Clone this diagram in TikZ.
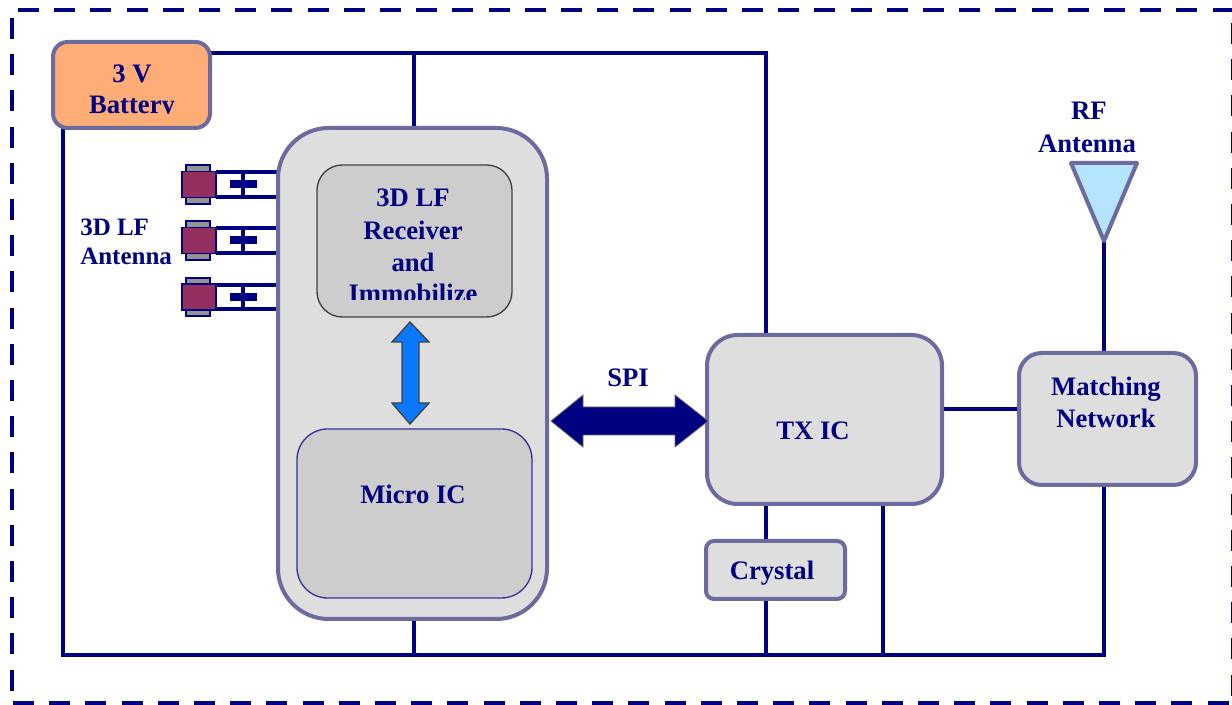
\documentclass[tikz,border=0pt]{standalone}
\usepackage{fontspec}
\setmainfont{Liberation Serif}
\usetikzlibrary{calc}
\definecolor{wire}{HTML}{000080}
\definecolor{edgeblue}{HTML}{6B6B9F}
\definecolor{boxgrey}{HTML}{DEDEDE}
\definecolor{innergrey}{HTML}{CDCDCD}
\definecolor{batt}{HTML}{FFAD76}
\definecolor{plum}{HTML}{93305F}
\definecolor{skyfill}{HTML}{B4E4FF}
\definecolor{arrowblue}{HTML}{0A78FF}
\pgfdeclarelayer{back}
\pgfsetlayers{back,main}
\tikzset{
  px/.style={x=0.75pt,y=-0.75pt},
  boxsize/.style 2 args={minimum width=#1*0.75pt,minimum height=#2*0.75pt,inner sep=0pt,outer sep=0pt},
  block/.style={rectangle,draw=edgeblue,fill=boxgrey,line width=3pt},
  wireline/.style={draw=wire,line width=3.3pt},
  thinwire/.style={draw=wire,line width=2.8pt},
  frameline/.style={draw=wire,line width=3.6pt,dash pattern=on 15.75pt off 11.4pt},
  label/.style={text=wire,font=\fontsize{20}{24}\selectfont\bfseries,inner sep=0pt,outer sep=0pt},
  smalllabel/.style={text=wire,font=\fontsize{18.75}{22}\selectfont\bfseries,inner sep=0pt,anchor=west},
  capcolor/.style={rectangle,draw=wire,fill=gray!85,line width=1.2pt},
  coil/.style={rectangle,draw=wire,fill=plum,line width=1.2pt},
  plate/.style={rectangle,fill=wire,inner sep=0pt,outer sep=0pt},
}
\begin{document}
\begin{tikzpicture}[px]
\useasboundingbox (0,0) rectangle (1232,705);
\begin{pgfonlayer}{back}
\fill[white] (0,0) rectangle (1232,705);
\end{pgfonlayer}
% outer dashed frame
\coordinate (fa) at (18,10);
\coordinate (fb) at (1240,10);
\coordinate (fc) at (12,18);
\coordinate (fd) at (12,692);
\coordinate (ff) at (13,703);
\coordinate (fe) at (1240,703);
\coordinate (fg) at (1233.5,23);
\coordinate (fh) at (1233.5,696);
\draw[frameline] (fa) -- (fb);
\draw[frameline] (fc) -- (fd);
\draw[frameline] (ff) -- (fe);
\draw[frameline] (fg) -- (fh);
% blocks
\node[block,boxsize={157}{86},rounded corners=11pt,fill=batt] (battery) at (131.5,85) {};
\node[block,boxsize={269}{491},rounded corners=38pt] (mainblk) at (412.5,373.5) {};
\node[rectangle,draw=black!75,fill=innergrey,line width=1pt,boxsize={195}{152},rounded corners=19pt] (lf) at (414.5,241) {};
\node[rectangle,draw=wire!80,fill=innergrey,line width=1pt,boxsize={235}{169},rounded corners=23pt] (micro) at (414.5,513.5) {};
\node[block,boxsize={235}{169},rounded corners=23pt] (tx) at (824.5,419.5) {};
\node[block,boxsize={139}{58},rounded corners=6pt] (crystal) at (775.5,570) {};
\node[block,boxsize={177}{132},rounded corners=17pt] (match) at (1107.5,419) {};
% antenna triangle
\coordinate (ra) at (1071,163);
\coordinate (rb) at (1137,163);
\coordinate (rc) at (1104,241);
\draw[edgeblue,fill=skyfill,line width=3pt,line join=round] (ra) -- (rb) -- (rc) -- cycle;
% connectors
\coordinate (tr) at (766,53);
\coordinate (tm) at (414,53);
\coordinate (bl) at (63,655);
\coordinate (br) at (1104,655);
\coordinate (txp) at (883,504);
\coordinate (lnk) at (942,409);
\begin{pgfonlayer}{back}
\draw[wireline] (battery.east |- tr) -- (tr) -- (tr |- tx.north);
\draw[wireline] (tm) -- (tm |- mainblk.north);
\draw[wireline] (bl |- battery.south) -- (bl) -- (br) -- (br |- match.south);
\draw[wireline] (tm |- mainblk.south) -- (tm |- bl);
\draw[wireline] (tr |- tx.south) -- (tr |- bl);
\draw[wireline] (txp) -- (txp |- bl);
\draw[wireline] (rc) -- (rc |- match.north);
\draw[wireline] (tx.east |- lnk) -- (match.west |- lnk);
\end{pgfonlayer}
% LF antennas
\foreach \i/\yt/\yb in {1/172/197,2/228/253,3/285/309}{
  \coordinate (t\i) at (216,\yt);
  \coordinate (b\i) at (216,\yb);
  \coordinate (vt\i) at (243,\yt);
  \pgfmathsetmacro{\ym}{(\yt+\yb)/2}
  \pgfmathsetmacro{\capH}{\yb-\yt+14}
  \node[capcolor,boxsize={24}{\capH}] (cap\i) at (198,\ym) {};
  \node[coil,boxsize={34}{26}] (coil\i) at (199,\ym) {};
  \node[plate,boxsize={27}{8}] (pl\i) at (243.5,\ym) {};
  \begin{pgfonlayer}{back}
  \draw[thinwire] (coil\i.east |- t\i) -- (mainblk.west |- t\i);
  \draw[thinwire] (coil\i.east |- b\i) -- (mainblk.west |- b\i);
  \draw[thinwire] (vt\i) -- (vt\i |- b\i);
  \end{pgfonlayer}
}
% arrows
\coordinate (ua) at (410,322);
\coordinate (ub) at (410,424);
\draw[draw=black!75,fill=arrowblue,line width=1pt,line join=miter]
  (ua) -- (429,342) -- (419,342) -- (419,403) -- (429,403) -- (ub) -- (392,403) -- (402,403) -- (402,342) -- (392,342) -- cycle;
\coordinate (sa) at (551,421);
\coordinate (sb) at (708,421);
\fill[wire,draw=black!60,line width=.6pt] (sa) -- (583,395) -- (583,407) -- (675,407) -- (675,395) -- (sb) -- (675,447) -- (675,435) -- (583,435) -- (583,447) -- cycle;
% labels
\begin{scope}
\clip (53,42) rectangle (210,114);
\node[label] (bat1) at (132,74) {3 V};
\node[label] (bat2) at (132,108) {Battery};
\end{scope}
\node[smalllabel] (ant1) at (80,227) {3D LF};
\node[smalllabel] (ant2) at (80,256) {Antenna};
\begin{scope}
\clip (317,165) rectangle (512,300);
\node[label] (lf1) at (413,198) {3D LF};
\node[label] (lf2) at (413,230) {Receiver};
\node[label] (lf3) at (413,262) {and};
\node[label] (lf4) at (413,293) {Immobilize};
\end{scope}
\node[label] (mic) at (413,494) {Micro IC};
\node[label] (spi) at (628,378) {SPI};
\node[label] (txl) at (813,431) {TX IC};
\node[label] (crl) at (772,573) {Crystal};
\node[label] (ma1) at (1106,389) {Matching};
\node[label] (ma2) at (1106,418) {Network};
\node[label] (rf1) at (1089,111) {RF};
\node[label] (rf2) at (1087,144) {Antenna};
\end{tikzpicture}
\end{document}
